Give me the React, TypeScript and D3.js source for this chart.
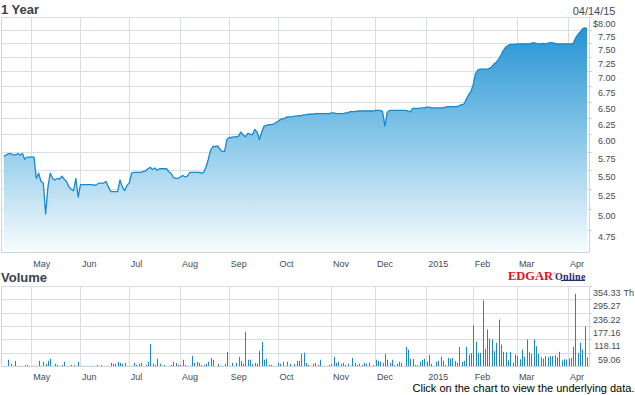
import React from 'react';
import * as d3 from 'd3';

const monthLabels = ['May', 'Jun', 'Jul', 'Aug', 'Sep', 'Oct', 'Nov', 'Dec', '2015', 'Feb', 'Mar', 'Apr'];
const monthStartIdx = [12, 33, 54, 76, 97, 118, 141, 160, 182, 202, 221, 243];
const priceTicks = [8.0, 7.75, 7.5, 7.25, 7.0, 6.75, 6.5, 6.25, 6.0, 5.75, 5.5, 5.25, 5.0, 4.75];
const priceTickLabels = ['$8.00', '7.75', '7.50', '7.25', '7.00', '6.75', '6.50', '6.25', '6.00', '5.75', '5.50', '5.25', '5.00', '4.75'];
const volTicks = [354.33, 295.27, 236.22, 177.16, 118.11, 59.06];
const volTickLabels = ['354.33', '295.27', '236.22', '177.16', '118.11', '59.06'];
const endDate = '04/14/15';

const prices = [
  5.69, 5.71, 5.73, 5.73, 5.71, 5.71, 5.73, 5.71, 5.73, 5.65,
  5.68, 5.68, 5.68, 5.68, 5.39, 5.46, 5.35, 5.33, 4.94, 5.28,
  5.46, 5.39, 5.37, 5.39, 5.38, 5.42, 5.38, 5.35, 5.28, 5.25,
  5.23, 5.39, 5.15, 5.31, 5.31, 5.31, 5.31, 5.31, 5.31, 5.30,
  5.31, 5.33, 5.33, 5.33, 5.35, 5.28, 5.22, 5.22, 5.22, 5.22,
  5.37, 5.28, 5.23, 5.30, 5.33, 5.46, 5.47, 5.47, 5.47, 5.47,
  5.48, 5.49, 5.52, 5.54, 5.51, 5.53, 5.50, 5.52, 5.52, 5.52,
  5.52, 5.48, 5.46, 5.40, 5.39, 5.39, 5.41, 5.43, 5.41, 5.42,
  5.47, 5.47, 5.47, 5.47, 5.47, 5.46, 5.47, 5.54, 5.65, 5.78,
  5.83, 5.83, 5.84, 5.79, 5.76, 5.76, 5.93, 5.96, 5.96, 5.97,
  5.97, 5.98, 6.04, 6.00, 5.97, 6.02, 6.01, 6.00, 6.08, 6.04,
  5.93, 6.04, 6.13, 6.14, 6.15, 6.15, 6.16, 6.18, 6.20, 6.23,
  6.24, 6.25, 6.27, 6.27, 6.27, 6.28, 6.28, 6.29, 6.29, 6.30,
  6.30, 6.31, 6.31, 6.31, 6.32, 6.32, 6.32, 6.32, 6.32, 6.32,
  6.32, 6.33, 6.33, 6.32, 6.32, 6.32, 6.32, 6.33, 6.33, 6.35,
  6.35, 6.35, 6.36, 6.36, 6.36, 6.36, 6.36, 6.36, 6.36, 6.36,
  6.37, 6.37, 6.37, 6.35, 6.13, 6.34, 6.37, 6.37, 6.37, 6.37,
  6.37, 6.37, 6.37, 6.37, 6.36, 6.35, 6.40, 6.40, 6.40, 6.40,
  6.41, 6.41, 6.42, 6.42, 6.41, 6.41, 6.41, 6.41, 6.41, 6.41,
  6.42, 6.43, 6.43, 6.43, 6.43, 6.43, 6.44, 6.46, 6.47, 6.54,
  6.62, 6.67, 6.79, 6.97, 7.03, 7.05, 7.05, 7.05, 7.05, 7.06,
  7.09, 7.14, 7.17, 7.23, 7.30, 7.38, 7.44, 7.47, 7.49, 7.49,
  7.49, 7.50, 7.50, 7.50, 7.50, 7.50, 7.50, 7.51, 7.52, 7.51,
  7.50, 7.50, 7.51, 7.50, 7.51, 7.52, 7.52, 7.51, 7.50, 7.50,
  7.50, 7.50, 7.50, 7.50, 7.50, 7.51, 7.60, 7.67, 7.72, 7.78,
  7.80, 7.78,
];

const volumes = [
  3, 2, 30, 12, 3, 25, 3, 3, 3, 7,
  7, 3, 3, 3, 3, 25, 3, 21, 12, 25,
  34, 3, 12, 7, 3, 7, 21, 3, 3, 7,
  7, 3, 21, 3, 3, 3, 3, 3, 3, 3,
  7, 3, 7, 3, 3, 3, 16, 12, 12, 21,
  16, 12, 16, 3, 3, 3, 16, 7, 12, 16,
  3, 7, 21, 100, 12, 7, 34, 12, 3, 7,
  3, 3, 7, 21, 16, 7, 7, 30, 7, 3,
  3, 47, 16, 21, 16, 7, 7, 12, 21, 38,
  30, 3, 12, 3, 3, 12, 65, 3, 16, 3,
  16, 43, 25, 12, 154, 30, 30, 12, 16, 12,
  69, 109, 30, 34, 7, 7, 3, 3, 16, 12,
  21, 3, 21, 12, 3, 12, 25, 25, 56, 61,
  16, 7, 3, 12, 16, 7, 30, 3, 3, 3,
  7, 12, 43, 16, 21, 12, 16, 7, 12, 3,
  38, 16, 7, 12, 7, 16, 12, 16, 3, 7,
  30, 25, 21, 16, 56, 30, 16, 30, 7, 12,
  21, 16, 3, 87, 74, 34, 34, 7, 7, 21,
  30, 34, 21, 52, 12, 3, 21, 25, 43, 25,
  7, 38, 34, 38, 25, 16, 87, 21, 25, 87,
  53, 60, 182, 109, 60, 60, 292, 78, 164, 124,
  120, 68, 105, 208, 97, 65, 63, 27, 65, 16,
  53, 46, 32, 75, 44, 120, 63, 56, 120, 90,
  56, 41, 35, 46, 41, 46, 46, 50, 41, 65,
  27, 32, 31, 35, 38, 87, 322, 60, 105, 75,
  177, 41,
];

const W = 635;
const H = 395;
const plotL = 1.5;
const plotR = 589.5;
const priceTop = 17.5;
const priceBottom = 252.5;
const volTop = 286.5;
const volBottom = 366.5;
const FONT = 'Liberation Sans, Arial, sans-serif';
const GRID = '#d9dee6';
const BORDER = '#cfd4dc';
const TEXT = '#444a55';
const BLUE = '#1689d0';

export default function App() {
  const x = d3.scaleLinear().domain([0, prices.length - 1]).range([3.8, 587.1]);
  const y = d3.scaleLog().domain([4.75, 8]).range([230, priceTop]);
  const yv = d3.scaleLinear().domain([0, 354.33]).range([volBottom, volTop]);

  const line = d3.line<number>().x((_, i) => x(i)).y((d) => y(d));
  const area = d3.area<number>().x((_, i) => x(i)).y0(priceBottom).y1((d) => y(d));

  const crisp = (v: number) => Math.round(v - 0.5) + 0.5;

  const monthGrid = (top: number, bottom: number, key: string) =>
    monthStartIdx.map((m, k) => (
      <line key={key + k} x1={crisp(x(m))} x2={crisp(x(m))} y1={top} y2={bottom} stroke={GRID} strokeWidth={1} />
    ));

  const monthText = (baseline: number, key: string) =>
    monthStartIdx.map((m, k) => (
      <text key={key + k} x={x(m) + 1.5} y={baseline} fontSize={9} fontFamily={FONT} fill={TEXT}>
        {monthLabels[k]}
      </text>
    ));

  return (
    <div style={{ position: 'absolute', left: 0, top: 0, width: W, height: H, background: '#fff' }}>
      <svg width={W} height={H} style={{ display: 'block' }}>
        <defs>
          <linearGradient id="pg" gradientUnits="userSpaceOnUse" x1={0} y1={priceTop} x2={0} y2={priceBottom}>
            <stop offset="0" stopColor="#1b8fd1" />
            <stop offset="0.5" stopColor="#86c6e8" />
            <stop offset="1" stopColor="#f8fcfe" />
          </linearGradient>
        </defs>
        <rect x={0} y={0} width={W} height={H} fill="#fff" />

        {/* titles */}
        <text x={1} y={13.5} fontSize={13} fontWeight="bold" fontFamily={FONT} fill="#3a3f48">1 Year</text>
        <text x={615.5} y={15} fontSize={11} fontFamily={FONT} fill={TEXT} textAnchor="end">{endDate}</text>

        {/* price grid */}
        {priceTicks.map((t, k) => (
          <line key={'pg' + k} x1={plotL} x2={plotR} y1={crisp(y(t))} y2={crisp(y(t))} stroke={GRID} strokeWidth={1} />
        ))}
        {monthGrid(priceTop, priceBottom, 'pm')}

        {/* price area + line */}
        <path d={area(prices) || ''} fill="url(#pg)" />
        <path d={line(prices) || ''} fill="none" stroke={BLUE} strokeWidth={1.3} strokeLinejoin="round" />

        {/* price frame */}
        <line x1={plotL} x2={plotL} y1={priceTop} y2={priceBottom} stroke={BORDER} />
        <line x1={plotR} x2={plotR} y1={priceTop} y2={priceBottom} stroke={BORDER} />
        <line x1={plotL} x2={plotR} y1={priceBottom} y2={priceBottom} stroke={BORDER} />
        {priceTicks.map((t, k) => (
          <g key={'pt' + k}>
            <line x1={plotR} x2={plotR + 2.5} y1={crisp(y(t))} y2={crisp(y(t))} stroke={BORDER} />
            <text x={615.5} y={y(t) + 9.5} fontSize={9} fontFamily={FONT} fill={TEXT} textAnchor="end">
              {priceTickLabels[k]}
            </text>
          </g>
        ))}
        {monthText(267, 'pl')}

        {/* volume */}
        <text x={1} y={281.5} fontSize={13} fontWeight="bold" fontFamily={FONT} fill="#3a3f48">Volume</text>

        {/* EDGAR Online logo */}
        <text x={508} y={280} fontSize={12.5} fontWeight="bold" fontFamily="Liberation Serif, Times New Roman, serif" fill="#e3121b">EDGAR</text>
        <text x={552.5} y={274.5} fontSize={5} fontFamily="Liberation Serif, serif" fill="#e3121b">®</text>
        <text x={555} y={280} fontSize={10} fontWeight="bold" fontFamily="Liberation Serif, Times New Roman, serif" fill="#1d2f6f" letterSpacing={0.3}>Online</text>
        <line x1={561} x2={585} y1={280.5} y2={280.5} stroke="#1d2f6f" strokeWidth={1} />

        {volTicks.map((t, k) => (
          <line key={'vg' + k} x1={plotL} x2={plotR} y1={crisp(yv(t))} y2={crisp(yv(t))} stroke={GRID} strokeWidth={1} />
        ))}
        {monthGrid(volTop, volBottom, 'vm')}

        {volumes.map((v, i) => (
          <rect key={'vb' + i} x={Math.round(x(i))} y={yv(v)} width={1} height={volBottom - yv(v)} fill={BLUE} />
        ))}

        <line x1={plotL} x2={plotL} y1={volTop} y2={volBottom} stroke={BORDER} />
        <line x1={plotR} x2={plotR} y1={volTop} y2={volBottom} stroke={BORDER} />
        <line x1={plotL} x2={plotR} y1={volBottom} y2={volBottom} stroke={BORDER} />
        {volTicks.map((t, k) => (
          <g key={'vt' + k}>
            <line x1={plotR} x2={plotR + 2.5} y1={crisp(yv(t))} y2={crisp(yv(t))} stroke={BORDER} />
            <text x={620.5} y={yv(t) + 9.5} fontSize={9} fontFamily={FONT} fill={TEXT} textAnchor="end">
              {volTickLabels[k]}
            </text>
          </g>
        ))}
        <text x={623.5} y={yv(volTicks[0]) + 9.5} fontSize={9} fontFamily={FONT} fill={TEXT}>Th</text>
        {monthText(380, 'vl')}

        <text x={412.5} y={392} fontSize={11} fontFamily={FONT} fill="#000">
          Click on the chart to view the underlying data.
        </text>
      </svg>
    </div>
  );
}
